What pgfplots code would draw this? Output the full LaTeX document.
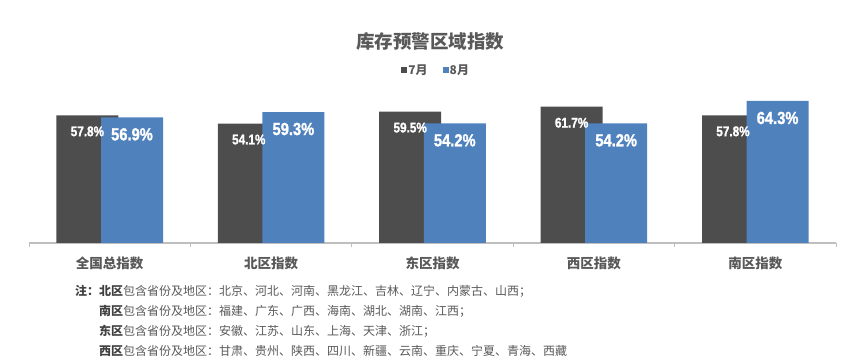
\documentclass[border=0pt]{standalone}
\usepackage{fontspec}
\setmainfont{Liberation Sans}
\newfontfamily\cjk{Noto Sans CJK SC}
\newfontfamily\numfont{Liberation Sans Bold}[FakeBold=1.3, FakeStretch=0.84]
\usepackage{pgfplots}
\pgfplotsset{compat=1.18}
\definecolor{cdark}{HTML}{4D4D4D}
\definecolor{cblue}{HTML}{4F81BD}
\definecolor{ctext}{HTML}{595959}
\definecolor{cbold}{HTML}{404040}
\definecolor{caxis}{HTML}{BFBFBF}
\pgfplotsset{sqleg/.style={legend image code/.code={\fill[##1] (0pt,-3pt) rectangle (6pt,3pt);}}}
\begin{document}
\begin{tikzpicture}[x=1pt,y=1pt]
\path[use as bounding box] (0,0) rectangle (865,361);
\begin{axis}[
  at={(29pt,118pt)}, anchor=south west,
  scale only axis, width=807pt, height=154.6pt,
  xmin=-0.5, xmax=4.5, ymin=0, ymax=70,
  axis y line=none, axis x line*=bottom,
  x axis line style={caxis, line width=1.3pt},
  ytick=\empty,
  xtick={-0.5,0.5,...,4.5}, xticklabels={},
  xtick align=outside, major tick length=4pt,
  tick style={caxis, line width=1pt},
  extra x ticks={0,1,2,3,4},
  extra x tick labels={全国总指数,北区指数,东区指数,西区指数,南区指数},
  extra x tick style={major tick length=0pt, tick style={draw=none}},
  xticklabel style={font=\cjk\bfseries\fontsize{13.5}{14}\selectfont, text=ctext, yshift=-10pt},
  ybar, bar width=62pt,
  /pgf/number format/assume math mode=true,
  legend columns=2,
  legend style={at={(axis description cs:0.504,1.119)}, anchor=center, draw=none, fill=none,
    font=\cjk\bfseries\fontsize{12}{12}\selectfont, text=ctext,
    /tikz/every even column/.append style={column sep=14pt},
    nodes={inner sep=1pt}},
]
\addplot[fill=cdark, draw=none, bar shift=-22.3pt, sqleg,
  nodes near coords={\pgfmathprintnumber[fixed,precision=1,fixed zerofill]{\pgfplotspointmeta}\%},
  every node near coord/.append style={anchor=center, yshift=-16pt, text=white, font=\numfont\fontsize{14}{14}\selectfont}]
  coordinates {(0,57.8) (1,54.1) (2,59.5) (3,61.7) (4,57.8)};
\addplot[fill=cblue, draw=none, bar shift=22.3pt, sqleg,
  nodes near coords={\pgfmathprintnumber[fixed,precision=1,fixed zerofill]{\pgfplotspointmeta}\%},
  every node near coord/.append style={anchor=center, yshift=-17pt, text=white, font=\numfont\fontsize{17.5}{17.5}\selectfont}]
  coordinates {(0,56.9) (1,59.3) (2,54.2) (3,54.2) (4,64.3)};
\legend{7月,8月}
\end{axis}
\node[font=\cjk\bfseries\fontsize{18.5}{20}\selectfont, text=ctext] at (430,319.6) {库存预警区域指数};
\begin{scope}[every node/.style={anchor=west, inner sep=0pt, font=\cjk\fontsize{12}{12}\selectfont, text=ctext}]
\node at (75,70) {\textcolor{cbold}{\bfseries 注：北区}包含省份及地区：北京、河北、河南、黑龙江、吉林、辽宁、内蒙古、山西；};
\node at (99,50) {\textcolor{cbold}{\bfseries 南区}包含省份及地区：福建、广东、广西、海南、湖北、湖南、江西；};
\node at (99,30) {\textcolor{cbold}{\bfseries 东区}包含省份及地区：安徽、江苏、山东、上海、天津、浙江；};
\node at (99,10) {\textcolor{cbold}{\bfseries 西区}包含省份及地区：甘肃、贵州、陕西、四川、新疆、云南、重庆、宁夏、青海、西藏};
\end{scope}
\end{tikzpicture}
\end{document}
